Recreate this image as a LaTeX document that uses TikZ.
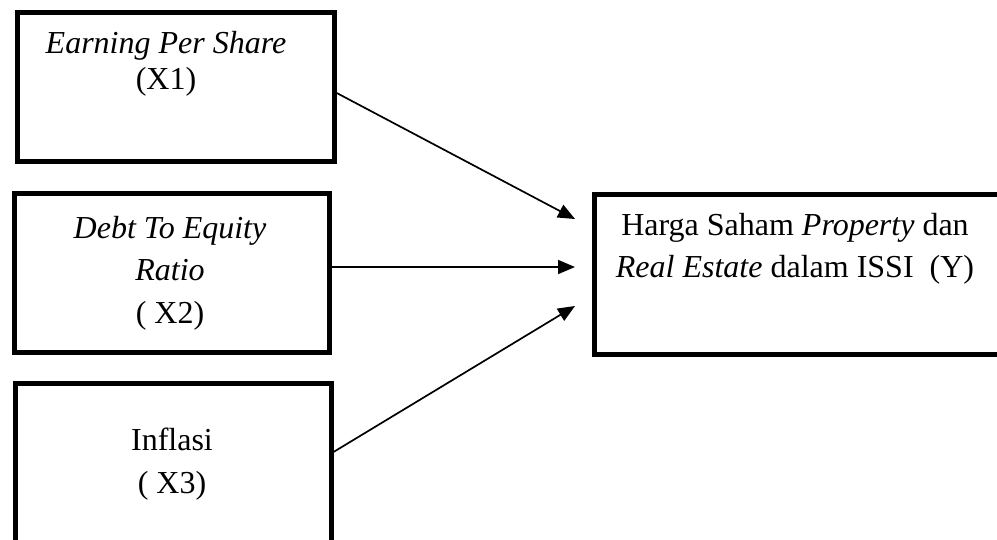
\documentclass[tikz,border=0pt]{standalone}
\usepackage{fontspec}
\setmainfont{Liberation Serif}
\usetikzlibrary{arrows.meta}

\tikzset{
  varbox/.style = {draw=black, line width=5pt, inner sep=0pt},
  boxtext/.style = {align=center, anchor=base, inner sep=0pt},
  link/.style = {black, line width=1.7pt, -{Triangle[length=17pt, width=14pt]}}
}

\begin{document}
\begin{tikzpicture}[x=1pt, y=-1pt]
        \clip (0,0) rectangle (997,539);
        % variable boxes
        \node[varbox, minimum width=316.5pt, minimum height=148.5pt] (eps) at (176,87) {};
        \node[varbox, minimum width=315pt, minimum height=159.5pt] (der) at (171.5,272.75) {};
        \node[varbox, minimum width=316pt, minimum height=177pt] (inf) at (173,471.5) {};
        \node[varbox, minimum width=405pt, minimum height=160pt] (harga) at (796.5,274) {};
        % texts (base = last line)
        \node[boxtext, font=\fontsize{32}{36}\selectfont] (epstext) at (166,89)
            {\textit{Earning Per Share}\\(X1)};
        \node[boxtext, font=\fontsize{32}{42.5}\selectfont] (dertext) at (170,323)
            {\textit{Debt To Equity}\\\textit{Ratio}\\( X2)};
        \node[boxtext, font=\fontsize{32}{43}\selectfont] (inftext) at (172,493)
            {Inflasi\\( X3)};
        \node[boxtext, font=\fontsize{32}{42}\selectfont] (hargatext) at (795,277)
            {Harga Saham \textit{Property} dan\\\textit{Real Estate} dalam ISSI\ \ (Y)};
        % arrow ends
        \coordinate (in1) at (575,219);
        \coordinate (in2) at (575,267);
        \coordinate (in3) at (575,306);
        \draw[link] ([yshift=-6pt]eps.east) -- (in1);
        \draw[link] ([yshift=5.75pt]der.east) -- (in2);
        \draw[link] ([yshift=19.5pt]inf.east) -- (in3);
    \end{tikzpicture}
\end{document}
